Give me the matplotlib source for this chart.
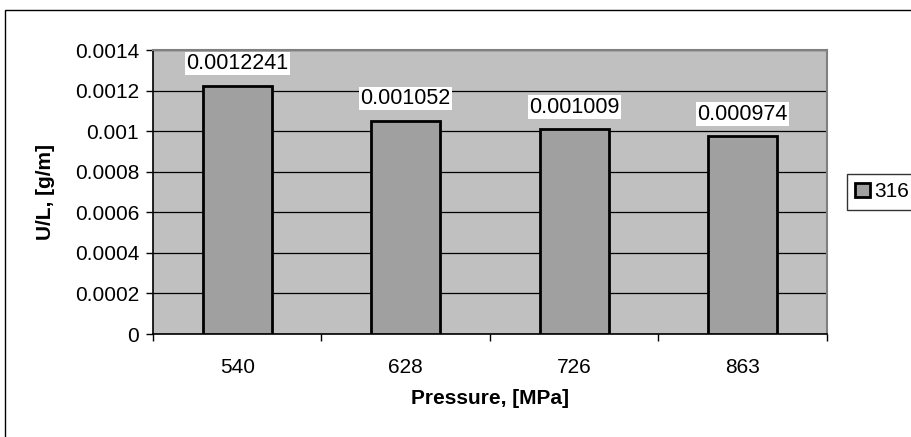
import numpy as np
import matplotlib.pyplot as plt
from matplotlib.patches import Rectangle

plt.rcParams['font.family'] = ['Liberation Sans', 'DejaVu Sans']

# data
pressure = ['540', '628', '726', '863']
ul = [0.0012241, 0.001052, 0.001009, 0.000974]
ul_text = ['0.0012241', '0.001052', '0.001009', '0.000974']
series = '316'
yticks = [0, 0.0002, 0.0004, 0.0006, 0.0008, 0.001, 0.0012, 0.0014]
ytick_text = ['0', '0.0002', '0.0004', '0.0006', '0.0008', '0.001', '0.0012', '0.0014']

W, H = 912, 437
fs = 15
fig = plt.figure(figsize=(W/100, H/100), dpi=100)

# outer chart border (cropped at right and bottom)
fig.patches.append(Rectangle((5/W, -0.1), 1.1, 1.1 - 10/H, transform=fig.transFigure,
                             fill=False, edgecolor='black', linewidth=1.0))

ax = fig.add_axes([153/W, 1-334/H, (827-153)/W, (334-50)/H])
ax.set_facecolor('#C0C0C0')

x = np.arange(len(pressure))
bars = ax.bar(x, ul, width=0.41, color='#A0A0A0', edgecolor='black', linewidth=2,
              label=series, zorder=3)

for xi, v, t in zip(x, ul, ul_text):
    ax.annotate(t, (xi, v), xytext=(0, 16), textcoords='offset points',
                ha='center', va='center', fontsize=15.5,
                bbox=dict(facecolor='white', edgecolor='none', pad=1.0), zorder=4)

ax.set_xlim(-0.5, len(pressure) - 0.5)
ax.set_ylim(0, 0.0014)
ax.set_yticks(yticks)
ax.set_yticklabels(ytick_text, fontsize=fs)
ax.yaxis.grid(True, color='black', linewidth=0.9, zorder=1)
ax.set_axisbelow(True)

ax.set_xticks(x)
ax.set_xticklabels(pressure, fontsize=fs)
ax.set_xticks(np.arange(-0.5, len(pressure)), minor=True)
ax.tick_params(axis='x', which='major', length=0, pad=17)
ax.tick_params(axis='x', which='minor', length=5, width=1, direction='out')
ax.tick_params(axis='y', length=5, width=1, direction='out', pad=5)

for s in ['top', 'right']:
    ax.spines[s].set_color('#808080')
    ax.spines[s].set_linewidth(1.5)
for s in ['left', 'bottom']:
    ax.spines[s].set_color('black')
    ax.spines[s].set_linewidth(1.2)

ax.set_xlabel('Pressure, [MPa]', fontsize=fs, fontweight='bold', labelpad=9)
ax.set_ylabel('U/L, [g/m]', fontsize=fs, fontweight='bold', labelpad=14)

leg = fig.legend(handles=[bars], labels=[series], loc='center left',
                 bbox_to_anchor=(847/W, 1-192/H), fontsize=fs, frameon=True,
                 fancybox=False, edgecolor='black', handlelength=0.7, handleheight=0.7,
                 handletextpad=0.2, borderpad=0.4, borderaxespad=0)
leg.get_frame().set_linewidth(1.0)

fig.savefig('out.png', dpi=100)
